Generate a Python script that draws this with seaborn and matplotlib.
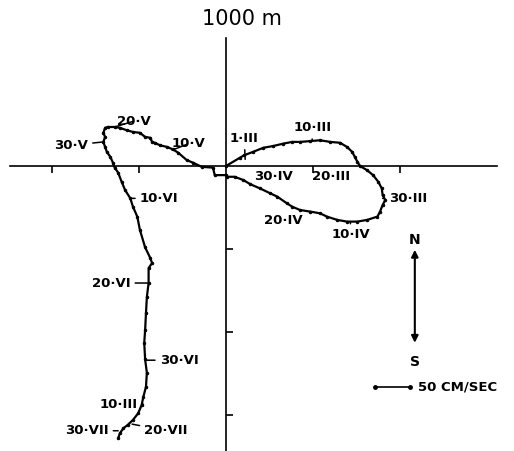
import matplotlib
matplotlib.use('Agg')
import matplotlib.pyplot as plt
import seaborn as sns
import pandas as pd

# progressive vector track (km east / km north of mooring, 1 tick = 100 km)
east_km = [0, 16, 21, 31, 43, 54, 66, 76, 85, 97, 108, 120, 131, 139, 145, 148, 151, 154,
           162, 169, 175, 179, 180, 183, 180, 177, 174, 162, 151, 139, 128, 116, 108, 97,
           85, 76, 70, 59, 51, 39, 28, 20, 10, 1, 0, -13, -15, -28, -38, -45, -55, -61,
           -68, -76, -82, -85, -87, -93, -99, -107, -114, -122, -128, -136, -139, -141,
           -139, -141, -139, -137, -133, -130, -128, -124, -120, -116, -110, -107, -102,
           -99, -93, -87, -85, -89, -89, -91, -92, -93, -94, -93, -91, -92, -95, -97,
           -101, -107, -113, -118, -122, -124]
north_km = [0, 10, 13, 17, 22, 24, 27, 29, 29, 30, 31, 29, 28, 23, 17, 11, 5, 0,
            -5, -11, -19, -27, -35, -41, -47, -55, -61, -65, -67, -67, -65, -61, -57, -55,
            -53, -49, -45, -37, -33, -27, -22, -17, -13, -13, -11, -11, -2, -1, 4, 7, 16, 20,
            23, 25, 28, 29, 34, 35, 40, 41, 43, 46, 47, 47, 46, 40,
            35, 29, 23, 17, 11, 4, -2, -8, -19, -29, -39, -49, -61,
            -77, -98, -111, -117, -123, -141, -158, -177, -198, -213, -233, -249, -266, -278, -288,
            -298, -306, -312, -316, -322, -328]

# date labels: text, text position, point on track
date_text = ['1·III', '10·III', '20·III', '30·III', '10·IV', '20·IV', '30·IV',
             '10·V', '20·V', '30·V', '10·VI', '20·VI', '30·VI', '10·III', '20·VII', '30·VII']
label_x = [21, 99, 121, 209, 143, 66, 55, -43, -106, -178, -77, -132, -54, -123, -69, -160]
label_y = [33, 46, -13, -39, -83, -66, -13, 27, 54, 25, -39, -141, -234, -287, -319, -319]
anchor_x = [22, 99, None, 180, 143, 85, None, -62, -128, -141, -110, -89, -92, -95, -108, -124]
anchor_y = [8, 31, None, -39, -67, -53, None, 19, 47, 29, -39, -141, -234, -287, -311, -319]

track = pd.DataFrame({'east': east_km, 'north': north_km})

sns.set_style('white')
plt.rcParams['font.family'] = ['DejaVu Sans']
plt.rcParams['text.color'] = 'black'

fig = plt.figure(figsize=(5.14, 4.51), dpi=100)
ax = fig.add_axes([0, 0, 1, 1])

sns.lineplot(data=track, x='east', y='north', sort=False, estimator=None,
             color='black', lw=1.6, marker='.', markersize=3.5, mec='black', ax=ax)

ax.set_xlim(-259.8, 331.0)
ax.set_ylim(-343.4, 200)

# cross axes through the mooring position
for s in ['top', 'right']:
    ax.spines[s].set_visible(False)
ax.spines['left'].set_position(('data', 0))
ax.spines['bottom'].set_position(('data', 0))
ax.spines['left'].set_bounds(-343, 154)
ax.spines['bottom'].set_bounds(-248, 312)
for s in ['left', 'bottom']:
    ax.spines[s].set_color('black')
    ax.spines[s].set_linewidth(1.2)
ax.set_xticks([-200, -100, 100, 200])
ax.set_yticks([-100, -200, -300])
ax.tick_params(axis='x', direction='out', length=5, width=1.2, color='black',
               labelbottom=False, bottom=True)
ax.tick_params(axis='y', direction='in', length=5, width=1.2, color='black',
               labelleft=False, left=True)
ax.set_xlabel('')
ax.set_ylabel('')

ax.text(18, 177, '1000 m', fontsize=15, color='black', ha='center', va='center')

for t, tx, ty, px, py in zip(date_text, label_x, label_y, anchor_x, anchor_y):
    if px is None:
        ax.text(tx, ty, t, fontsize=9.5, fontweight='bold', color='black',
                ha='center', va='center')
    else:
        ax.annotate(t, xy=(px, py), xytext=(tx, ty), fontsize=9.5, fontweight='bold',
                    color='black', ha='center', va='center',
                    arrowprops=dict(arrowstyle='-', lw=1.1, color='black',
                                    shrinkA=1, shrinkB=0))

# north-south arrow
ax.annotate('', xy=(217, -101), xytext=(217, -213),
            arrowprops=dict(arrowstyle='<|-|>', lw=1.5, color='black',
                            mutation_scale=10, shrinkA=0, shrinkB=0))
ax.text(217, -89, 'N', fontsize=10, fontweight='bold', color='black', ha='center', va='center')
ax.text(217, -236, 'S', fontsize=10, fontweight='bold', color='black', ha='center', va='center')

# velocity scale
ax.plot([171, 211], [-266, -266], color='black', lw=1.2, marker='o', markersize=2.5)
ax.text(221, -266, '50 CM/SEC', fontsize=9.5, fontweight='bold', color='black',
        ha='left', va='center')

fig.savefig('out.png', dpi=100, facecolor='white')
